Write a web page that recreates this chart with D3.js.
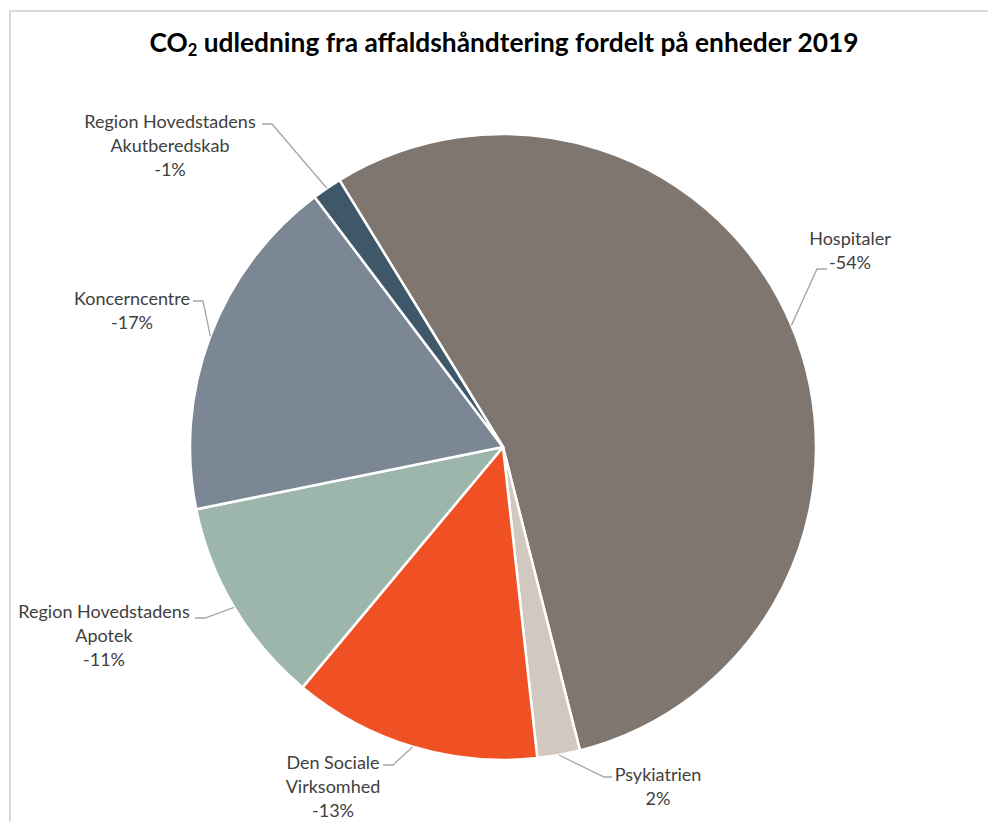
<!DOCTYPE html>
<html>
<head>
<meta charset="utf-8">
<script src="https://cdn.jsdelivr.net/npm/d3@7"></script>
<style>
  html, body { margin: 0; padding: 0; background: #ffffff; }
  svg { display: block; }
</style>
</head>
<body>
<svg id="chart" width="988" height="822"></svg>
<script>
// CO2 emissions from waste handling per unit, 2019 (share, signed)
const units = ["Hospitaler", "Psykiatrien", "Den Sociale Virksomhed", "Region Hovedstadens Apotek", "Koncerncentre", "Region Hovedstadens Akutberedskab"];
const shares = [-0.5351, 0.0215, -0.1251, -0.105, -0.1749, -0.0149];
const labelLines = [
  ["Hospitaler"],
  ["Psykiatrien"],
  ["Den Sociale", "Virksomhed"],
  ["Region Hovedstadens", "Apotek"],
  ["Koncerncentre"],
  ["Region Hovedstadens", "Akutberedskab"]
];
const sliceColors = ["#7f776f", "#d1c9bf", "#f05124", "#9db6ac", "#7b8795", "#3f5869"];

// layout
const W = 988, H = 822;
const cx = 503, cy = 447, R = 313;
const startDeg = -31.5;
const lineH = 24;
// label block: text centre x, first baseline y; elbow: horizontal leader segment
const labelLayout = [
  { x: 850, y: 245, elbow: [[827, 269], [817, 269]] },
  { x: 658, y: 781, elbow: [[612, 777], [604, 777]] },
  { x: 333, y: 769, elbow: [[383, 765], [393, 765]] },
  { x: 104, y: 618, elbow: [[195, 618], [205, 618]] },
  { x: 132, y: 305, elbow: [[193, 301], [203, 301]] },
  { x: 170, y: 128, elbow: [[262, 124], [272, 124]] }
];

const svg = d3.select("#chart");

// chart area frame
svg.append("rect")
  .attr("x", 10).attr("y", 11)
  .attr("width", W + 20).attr("height", H + 20)
  .attr("fill", "none")
  .attr("stroke", "#d9d9d9")
  .attr("stroke-width", 2);

// title
const title = svg.append("text")
  .attr("x", 504).attr("y", 52)
  .attr("text-anchor", "middle")
  .attr("font-family", "Lato, 'Open Sans', sans-serif")
  .attr("font-weight", "bold")
  .attr("font-size", 26.3)
  .attr("fill", "#000000");
title.append("tspan").text("CO");
title.append("tspan").attr("font-size", 16.5).attr("dy", 4).text("2");
title.append("tspan").attr("dy", -4).text(" udledning fra affaldshåndtering fordelt på enheder 2019");

const data = units.map((u, i) => ({ unit: u, value: shares[i], lines: labelLines[i], color: sliceColors[i], layout: labelLayout[i] }));

const a0 = startDeg * Math.PI / 180;
const pie = d3.pie()
  .sort(null)
  .value(d => Math.abs(d.value))
  .startAngle(a0)
  .endAngle(a0 + 2 * Math.PI);

const arc = d3.arc().innerRadius(0).outerRadius(R);
const arcs = pie(data);

const g = svg.append("g").attr("transform", `translate(${cx},${cy})`);

g.selectAll("path.slice")
  .data(arcs)
  .join("path")
  .attr("class", "slice")
  .attr("d", arc)
  .attr("fill", d => d.data.color)
  .attr("stroke", "#ffffff")
  .attr("stroke-width", 2.5)
  .attr("stroke-linejoin", "round");

// leader lines from slice edge (mid-angle) to the label
const fmt = d3.format(".0%");
const leaders = svg.append("g");
arcs.forEach(d => {
  const mid = (d.startAngle + d.endAngle) / 2;
  const px = cx + R * Math.sin(mid);
  const py = cy - R * Math.cos(mid);
  const pts = [d.data.layout.elbow[0], d.data.layout.elbow[1], [px, py]];
  leaders.append("path")
    .attr("d", d3.line()(pts))
    .attr("fill", "none")
    .attr("stroke", "#a6a6a6")
    .attr("stroke-width", 1.3);
});

// data labels
const labels = svg.append("g")
  .attr("font-family", "Lato, 'Open Sans', sans-serif")
  .attr("font-size", 18)
  .attr("fill", "#404040")
  .attr("text-anchor", "middle");
arcs.forEach(d => {
  const L = d.data.layout;
  const t = labels.append("text").attr("x", L.x).attr("y", L.y);
  const rows = d.data.lines.concat([fmt(d.data.value).replace("−", "-")]);
  rows.forEach((r, i) => {
    t.append("tspan").attr("x", L.x).attr("dy", i === 0 ? 0 : lineH).text(r);
  });
});
</script>
</body>
</html>
